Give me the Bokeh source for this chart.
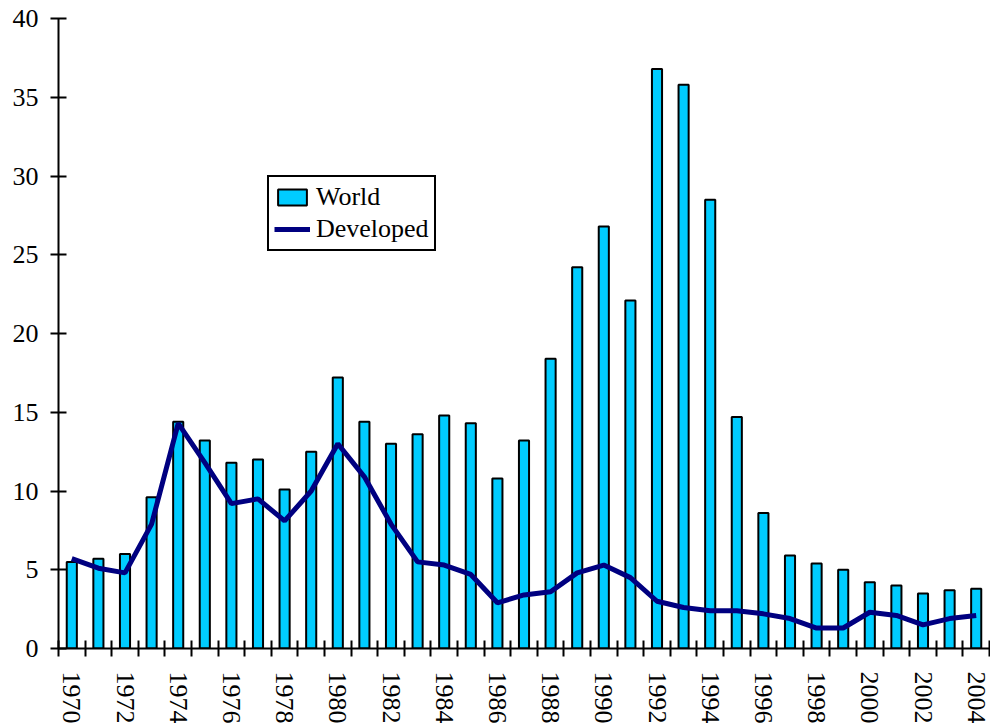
import math
from bokeh.plotting import figure
from bokeh.models import FixedTicker, Range1d, Legend, LegendItem, ColumnDataSource
from bokeh.embed import file_html
from bokeh.resources import INLINE

years = list(range(1970, 2005))
world = [5.5, 5.7, 6.0, 9.6, 14.4, 13.2, 11.8, 12.0, 10.1, 12.5,
         17.2, 14.4, 13.0, 13.6, 14.8, 14.3, 10.8, 13.2, 18.4, 24.2,
         26.8, 22.1, 36.8, 35.8, 28.5, 14.7, 8.6, 5.9, 5.4, 5.0,
         4.2, 4.0, 3.5, 3.7, 3.8]
developed = [5.7, 5.1, 4.8, 7.9, 14.3, 11.8, 9.2, 9.5, 8.1, 10.0,
             13.0, 10.9, 7.9, 5.5, 5.3, 4.7, 2.9, 3.4, 3.6, 4.8,
             5.3, 4.5, 3.0, 2.6, 2.4, 2.4, 2.2, 1.9, 1.3, 1.3,
             2.3, 2.1, 1.5, 1.9, 2.1]
label_years = list(range(1970, 2005, 2))
y_ticks = list(range(0, 41, 5))

src = ColumnDataSource(dict(year=years, world=world, developed=developed))

FONT = "Liberation Serif"

p = figure(width=990, height=728, output_backend="svg", toolbar_location=None,
           x_range=Range1d(1969.5, 2004.5), y_range=Range1d(0, 40),
           min_border_left=58, min_border_right=1, min_border_top=18, min_border_bottom=80)
p.outline_line_color = None
p.xgrid.visible = False
p.ygrid.visible = False
p.background_fill_color = "white"
p.border_fill_color = "white"

bars = p.vbar(x="year", top="world", width=0.38, source=src,
              fill_color="#00CCFF", line_color="black", line_width=2)
ln = p.line(x="year", y="developed", source=src, line_color="#000080", line_width=5)

# y axis
ya = p.yaxis[0]
ya.ticker = FixedTicker(ticks=y_ticks)
ya.axis_line_width = 2
ya.axis_line_color = "black"
ya.major_tick_in = 8
ya.major_tick_out = 8
ya.major_tick_line_width = 2
ya.minor_tick_line_color = None
ya.major_label_text_font = FONT
ya.major_label_text_font_size = "26px"
ya.major_label_text_color = "black"
ya.major_label_standoff = 12

# x axis
xa = p.xaxis[0]
xa.ticker = FixedTicker(ticks=label_years,
                        minor_ticks=[y - 0.5 for y in years] + [years[-1] + 0.5])
xa.axis_line_width = 2
xa.axis_line_color = "black"
xa.major_tick_in = 0
xa.major_tick_out = 0
xa.minor_tick_in = 8
xa.minor_tick_out = 8
xa.minor_tick_line_width = 2
xa.minor_tick_line_color = "black"
xa.major_label_text_font = FONT
xa.major_label_text_font_size = "26px"
xa.major_label_text_color = "black"
xa.major_label_orientation = -math.pi / 2
xa.major_label_standoff = 15
xa.major_label_overrides = {y: str(y) for y in label_years}

legend = Legend(items=[LegendItem(label="World", renderers=[bars]),
                       LegendItem(label="Developed", renderers=[ln])],
                location=(209, 397))
legend.label_text_font = FONT
legend.label_text_font_size = "26px"
legend.label_text_color = "black"
legend.border_line_color = "black"
legend.border_line_alpha = 1
legend.border_line_width = 2
legend.background_fill_color = "white"
legend.background_fill_alpha = 1
legend.glyph_width = 36
legend.glyph_height = 20
legend.label_standoff = 6
legend.padding = 5
legend.spacing = 2
legend.margin = 0
p.add_layout(legend, "center")

open("out.html", "w").write(file_html(p, INLINE))
